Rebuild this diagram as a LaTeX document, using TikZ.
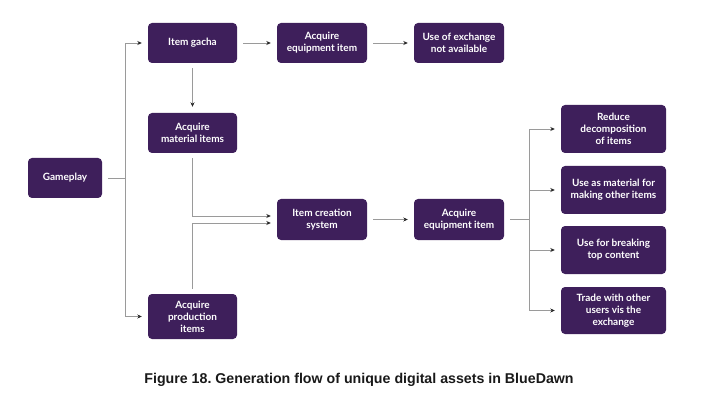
\documentclass[tikz,border=0pt]{standalone}
\usepackage{fontspec}
\setmainfont{Lato}
\newfontfamily\capfont{Liberation Sans}
\usetikzlibrary{arrows.meta}
\frenchspacing
\definecolor{boxc}{HTML}{3E1F5B}
\definecolor{linec}{HTML}{9A9A9A}
\tikzset{
  box/.style={fill=boxc, rounded corners=4pt, text=white, align=center,
    font=\fontsize{10}{12}\selectfont\bfseries, inner sep=0pt},
  conn/.style={draw=linec, line width=0.7pt},
  arr/.style={conn, -{Stealth[length=4.5pt,width=4pt,color=black!85]}, shorten >=6pt},
}
\begin{document}
\begin{tikzpicture}[x=1pt,y=-1pt]
\useasboundingbox (0,0) rectangle (710,401);
% nodes
\node[box, minimum width=74pt, minimum height=40pt] (game) at (65,178) {Gameplay};
\node[box, minimum width=89pt, minimum height=40pt] (gacha) at (192.5,43) {Item gacha};
\node[box, minimum width=90pt, minimum height=40pt] (eq1) at (322,43) {Acquire\\equipment item};
\node[box, minimum width=90pt, minimum height=40pt] (exch) at (459,43) {Use of exchange\\not available};
\node[box, minimum width=89pt, minimum height=40pt] (mat) at (192.5,133) {Acquire\\material items};
\node[box, minimum width=89pt, minimum height=45pt] (prod) at (192.5,316.5) {Acquire\\production\\items};
\node[box, minimum width=90pt, minimum height=41pt] (create) at (322,219.5) {Item creation\\system};
\node[box, minimum width=90pt, minimum height=41pt] (eq2) at (459,219.5) {Acquire\\equipment item};
\node[box, minimum width=105pt, minimum height=48pt] (r1) at (613.5,129) {Reduce\\decomposition\\of items};
\node[box, minimum width=105pt, minimum height=48pt] (r2) at (613.5,190) {Use as material for\\making other items};
\node[box, minimum width=105pt, minimum height=48pt] (r3) at (613.5,250) {Use for breaking\\top content};
\node[box, minimum width=105pt, minimum height=47pt] (r4) at (613.5,310.5) {Trade with other\\users vis the\\exchange};
\coordinate (j1) at (125,178);
\coordinate (j2) at (529,219.5);
% connectors
\draw[conn, shorten <=6pt] (game) -- (j1);
\draw[arr] (j1) |- (gacha);
\draw[arr] (j1) |- (prod);
\draw[arr, shorten <=6pt] (gacha) -- (eq1);
\draw[arr, shorten <=6pt] (eq1) -- (exch);
\draw[arr, shorten <=5pt] (gacha) -- (mat);
\draw[arr, shorten <=5pt] (mat.south) |- ([yshift=3.5pt]create.west);
\draw[arr, shorten <=5pt] (prod.north) |- ([yshift=-3.5pt]create.west);
\draw[arr, shorten <=6pt] (create) -- (eq2);
\draw[conn, shorten <=6pt] (eq2) -- (j2);
\draw[arr] (j2) |- (r1);
\draw[arr] (j2) |- (r2);
\draw[arr] (j2) |- (r3);
\draw[arr] (j2) |- (r4);
% caption
\node[anchor=base, font=\capfont\fontsize{14.2}{16}\selectfont\bfseries, text=black!90, inner sep=0pt] (cap) at (359,383) {Figure 18. Generation flow of unique digital assets in BlueDawn};
\end{tikzpicture}
\end{document}
